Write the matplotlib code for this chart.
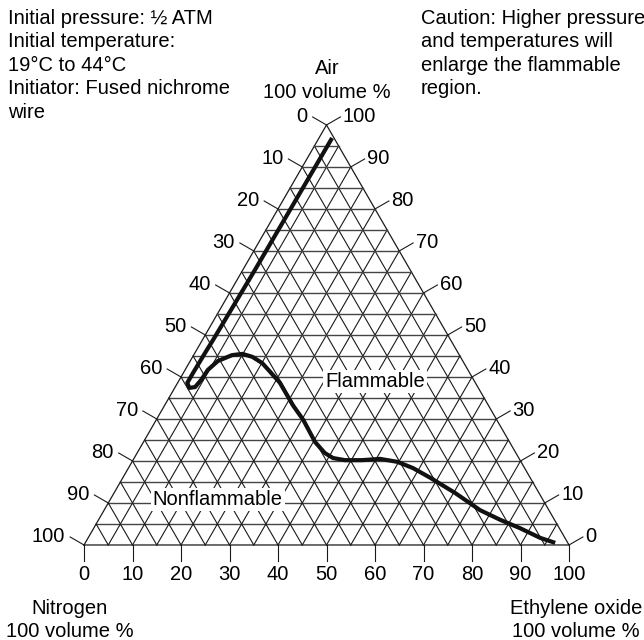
import numpy as np
import matplotlib
matplotlib.use("Agg")
import matplotlib.pyplot as plt

plt.rcParams['font.family'] = ['Liberation Sans', 'DejaVu Sans']

# flammability boundary (percent Air, percent Ethylene oxide)
air_pct = [96.9, 65.5, 48.8, 46.0, 41.0, 38.6, 37.4, 37.6, 39.3, 41.7,
           43.8, 45.2, 45.5, 44.8, 43.3, 41.2, 38.6, 33.3, 29.8, 24.5,
           21.9, 20.7, 20.2, 20.2, 20.5, 19.8, 18.3, 16.0, 12.4, 8.3, 6.0,
           4.0, 1.7, 0.5]
eo_pct = [2.7, 2.5, 2.2, 2.1, 2.0, 2.0, 3.0, 4.1, 4.5, 4.7,
          5.7, 7.9, 9.9, 12.3, 15.1, 17.8, 21.1, 26.4, 30.3, 35.4,
          38.7, 41.0, 43.7, 47.2, 50.8, 54.7, 58.7, 63.4, 70.3, 77.5, 82.8,
          87.9, 93.2, 96.9]

tick_vals = [0, 10, 20, 30, 40, 50, 60, 70, 80, 90, 100]
grid_vals = list(range(5, 100, 5))

note_left = "Initial pressure: \u00bd ATM\nInitial temperature:\n19\u00b0C to 44\u00b0C\nInitiator: Fused nichrome\nwire"
note_right = "Caution: Higher pressure\nand temperatures will\nenlarge the flammable\nregion."

S3 = np.sqrt(3) / 2


def tern(eo, air):
    eo = np.asarray(eo, dtype=float)
    air = np.asarray(air, dtype=float)
    return eo + air / 2, air * S3


fig = plt.figure(figsize=(6.44, 6.40), dpi=100)
ax = fig.add_axes([0, 0, 1, 1])
ax.set_xlim(-17.32, 115.46)
ax.set_ylim(-19.59, 112.37)
ax.set_aspect('equal')
ax.axis('off')

lw_grid = 0.8
gc = '#1a1a1a'

# triangle outline
bx, by = tern([0, 100, 0, 0], [0, 0, 100, 0])
ax.plot(bx, by, color=gc, lw=0.9)

# grid every 5 %
for k in grid_vals:
    x, y = tern([0, 100 - k], [k, k])           # constant air
    ax.plot(x, y, color='#444444', lw=1.0)
    x, y = tern([k, k], [0, 100 - k])           # constant ethylene oxide
    ax.plot(x, y, color=gc, lw=lw_grid)
    x, y = tern([100 - k, 0], [0, 100 - k])     # constant nitrogen
    ax.plot(x, y, color=gc, lw=lw_grid)

tl = 3.3
fs = 14.5
c30, s30 = np.cos(np.pi / 6), np.sin(np.pi / 6)

# left side: nitrogen
for v in tick_vals:
    x0, y0 = tern(0, 100 - v)
    x1, y1 = x0 - tl * c30, y0 + tl * s30
    ax.plot([x0, x1], [y0, y1], color=gc, lw=lw_grid)
    ax.text(x1 - 1.0, y1, str(v), ha='right', va='center', fontsize=fs)

# right side: air
for v in tick_vals:
    x0, y0 = tern(100 - v, v)
    x1, y1 = x0 + tl * c30, y0 + tl * s30
    ax.plot([x0, x1], [y0, y1], color=gc, lw=lw_grid)
    ax.text(x1 + 0.5, y1, str(v), ha='left', va='center', fontsize=fs)

# bottom: ethylene oxide
for v in tick_vals:
    x0, y0 = tern(v, 0)
    ax.plot([x0, x0], [y0, y0 - tl], color=gc, lw=lw_grid)
    ax.text(x0, y0 - tl - 0.9, str(v), ha='center', va='top', fontsize=fs)

# boundary curve
cx, cy = tern(eo_pct, air_pct)
ax.plot(cx, cy, color='#111111', lw=3.0, solid_joinstyle='round',
        solid_capstyle='butt')

box = dict(facecolor='white', edgecolor='none', pad=1.5)
ax.text(60.0, 33.8, "Flammable", ha='center', va='center', fontsize=fs, bbox=box)
ax.text(27.6, 9.3, "Nonflammable", ha='center', va='center', fontsize=fs, bbox=box)

# vertex labels
ax.text(50.1, 100.2, "Air\n100 volume %", ha='center', va='top',
        fontsize=fs, linespacing=1.3)
ax.text(-2.9, -11.1, "Nitrogen\n100 volume %", ha='center', va='top',
        fontsize=fs, linespacing=1.3)
ax.text(101.4, -11.1, "Ethylene oxide\n100 volume %", ha='center', va='top',
        fontsize=fs, linespacing=1.3)

# notes
ax.text(-15.67, 110.6, note_left, ha='left', va='top', fontsize=fs,
        linespacing=1.3)
ax.text(69.5, 110.6, note_right, ha='left', va='top', fontsize=fs,
        linespacing=1.3)

fig.savefig("out.png", dpi=100)
